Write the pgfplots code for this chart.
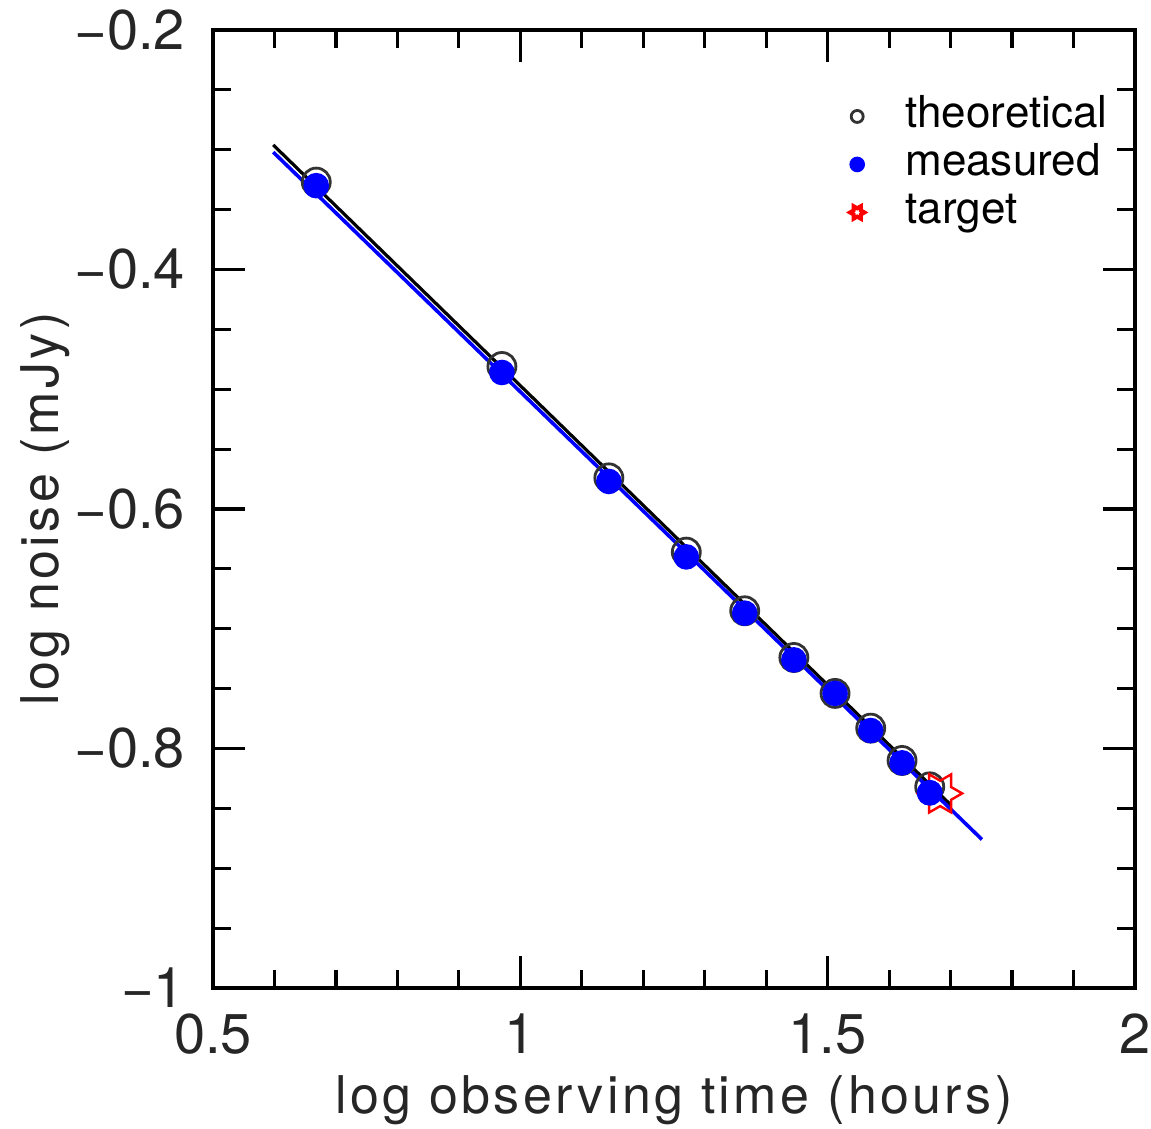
\documentclass[border=0pt]{standalone}
\usepackage{fontspec}
\setmainfont{TeX Gyre Heros}
\usepackage{pgfplots}
\pgfplotsset{compat=1.18}
\usetikzlibrary{plotmarks}

% outlined six-pointed star, one point to the right
\pgfdeclareplotmark{hexstar}{%
  \pgfpathmoveto{\pgfpointpolar{0}{\pgfplotmarksize}}%
  \pgfpathlineto{\pgfpointpolar{30}{0.577\pgfplotmarksize}}%
  \pgfpathlineto{\pgfpointpolar{60}{\pgfplotmarksize}}%
  \pgfpathlineto{\pgfpointpolar{90}{0.577\pgfplotmarksize}}%
  \pgfpathlineto{\pgfpointpolar{120}{\pgfplotmarksize}}%
  \pgfpathlineto{\pgfpointpolar{150}{0.577\pgfplotmarksize}}%
  \pgfpathlineto{\pgfpointpolar{180}{\pgfplotmarksize}}%
  \pgfpathlineto{\pgfpointpolar{210}{0.577\pgfplotmarksize}}%
  \pgfpathlineto{\pgfpointpolar{240}{\pgfplotmarksize}}%
  \pgfpathlineto{\pgfpointpolar{270}{0.577\pgfplotmarksize}}%
  \pgfpathlineto{\pgfpointpolar{300}{\pgfplotmarksize}}%
  \pgfpathlineto{\pgfpointpolar{330}{0.577\pgfplotmarksize}}%
  \pgfpathclose
  \pgfusepathqstroke
}

\begin{document}
\begin{tikzpicture}
\begin{axis}[
  name=ax,
  width=230.5pt, height=239.5pt, scale only axis,
  xmin=0.5, xmax=2, ymin=-1, ymax=-0.2,
  xtick={0.5,1,1.5,2}, xticklabels={0.5,1,1.5,2},
  minor x tick num=4,
  ytick={-1,-0.8,-0.6,-0.4,-0.2},
  yticklabels={−1,−0.8,−0.6,−0.4,−0.2},
  minor y tick num=3,
  major tick length=8pt, minor tick length=4.5pt,
  tick style={line width=0.8pt, black},
  axis line style={line width=1.1pt},
  ticklabel style={font=\fontsize{14}{16}\selectfont, color=black!85},
  xticklabel style={yshift=-3pt},
  yticklabel style={xshift=-3.5pt},
  xlabel={log observing time (hours)},
  ylabel={log noise (mJy)},
  xlabel style={at={(axis description cs:0.5,-0.117)}, anchor=center,
    font=\fontsize{13}{15}\selectfont\addfontfeatures{LetterSpace=6.5}, color=black!85},
  ylabel style={at={(axis description cs:-0.182,0.5)}, anchor=center,
    font=\fontsize{13}{15}\selectfont\addfontfeatures{LetterSpace=6.5}, color=black!85},
  legend cell align=left,
  legend style={at={(axis description cs:0.677,0.944)}, anchor=north west,
    draw=none, fill=none, font=\fontsize{11}{12}\selectfont,
    column sep=9pt,
    nodes={text height=7.5pt, text depth=2pt, inner sep=1.25pt}},
]
% fitted lines
\addplot[black, line width=0.8pt, forget plot] coordinates {(0.598,-0.296) (1.70,-0.847)};
\addplot[blue, line width=0.9pt, forget plot] coordinates {(0.598,-0.302) (1.751,-0.876)};

\addplot[only marks, mark=o, mark size=3.5pt, black!80, line width=0.7pt,
  legend image post style={mark size=1.5pt}] coordinates {
  (0.668,-0.327) (0.970,-0.481) (1.144,-0.574) (1.270,-0.636) (1.365,-0.685)
  (1.445,-0.724) (1.512,-0.754) (1.570,-0.783) (1.621,-0.810) (1.666,-0.832)
};
\addlegendentry{theoretical}

\addplot[only marks, mark=*, mark size=3pt, blue, mark options={draw=blue, fill=blue},
  legend image post style={mark size=1.75pt}] coordinates {
  (0.668,-0.330) (0.970,-0.486) (1.144,-0.577) (1.270,-0.640) (1.365,-0.687)
  (1.445,-0.726) (1.512,-0.754) (1.570,-0.785) (1.621,-0.812) (1.666,-0.837)
};
\addlegendentry{measured}

\addplot[only marks, mark=hexstar, mark size=5.5pt, red, line width=0.6pt,
  legend image post style={mark size=1.8pt, line width=1pt}] coordinates {
  (1.683,-0.8375)
};
\addlegendentry{target}

% measured point on top of the star
\addplot[only marks, mark=*, mark size=3pt, blue, forget plot] coordinates {(1.666,-0.837)};
\end{axis}
\pgfresetboundingbox
\path ([shift={(-53.25pt,-35.25pt)}]ax.south west) rectangle ([shift={(4pt,7.5pt)}]ax.north east);
\end{tikzpicture}
\end{document}
